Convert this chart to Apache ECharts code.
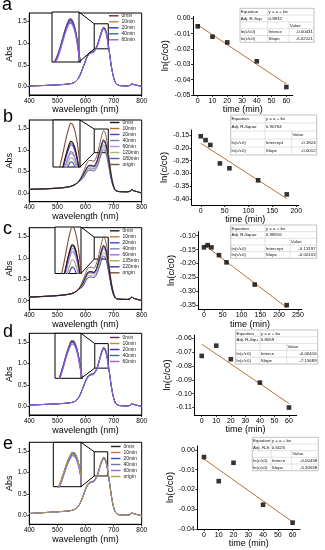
<!DOCTYPE html>
<html><head><meta charset="utf-8">
<script src="https://cdn.jsdelivr.net/npm/echarts@6/dist/echarts.min.js"></script>
<style>html,body{margin:0;padding:0;background:#fff}#c{width:325px;height:550px}</style>
</head><body><div id="c"></div>
<script>
// ---------- DATA ----------
const WL = [400,450,500,540,560,575,590,600,610,620,630,640,645,650,655,660,664,668,672,676,680,685,690,695,700,705,710,720,750,760,765,770,780,800];

// panel a spectra
const legendA = ['0min','10min','20min','40min','60min'];
const a_0min  = [0.01,0.02,0.035,0.055,0.09,0.19,0.42,0.60,0.75,0.80,0.82,0.93,1.02,1.13,1.24,1.33,1.37,1.36,1.30,1.19,1.02,0.80,0.56,0.36,0.21,0.11,0.06,0.02,0.01,0.03,0.06,0.045,0.03,0.0];
const a_10min = [0.01,0.02,0.035,0.055,0.09,0.19,0.42,0.60,0.745,0.795,0.815,0.925,1.01,1.12,1.23,1.32,1.36,1.35,1.29,1.18,1.01,0.795,0.556,0.357,0.208,0.11,0.06,0.02,0.01,0.03,0.06,0.045,0.03,0.0];
const a_20min = [0.01,0.02,0.035,0.055,0.09,0.19,0.42,0.595,0.74,0.79,0.81,0.92,1.01,1.115,1.225,1.315,1.355,1.345,1.285,1.175,1.01,0.79,0.553,0.355,0.207,0.11,0.06,0.02,0.01,0.03,0.06,0.045,0.03,0.0];
const a_40min = [0.01,0.02,0.035,0.055,0.09,0.19,0.41,0.585,0.73,0.78,0.80,0.905,0.995,1.10,1.21,1.30,1.335,1.325,1.27,1.16,0.995,0.78,0.546,0.35,0.205,0.11,0.06,0.02,0.01,0.03,0.06,0.045,0.03,0.0];
const a_60min = [0.01,0.02,0.035,0.055,0.09,0.19,0.405,0.58,0.72,0.77,0.79,0.895,0.98,1.085,1.19,1.28,1.32,1.31,1.25,1.145,0.98,0.77,0.54,0.345,0.20,0.11,0.06,0.02,0.01,0.03,0.06,0.045,0.03,0.0];

// panel b spectra
const legendB = ['0min','10min','20min','40min','60min','120min','180min','origin'];
const b_0min   = [0.09,0.10,0.115,0.145,0.19,0.26,0.41,0.53,0.64,0.65,0.63,0.735,0.84,0.96,1.085,1.19,1.24,1.22,1.155,1.045,0.88,0.67,0.445,0.275,0.155,0.08,0.05,0.035,0.03,0.05,0.085,0.06,0.04,0.0];
const b_10min  = [0.09,0.10,0.115,0.145,0.19,0.26,0.40,0.52,0.63,0.64,0.62,0.725,0.825,0.94,1.07,1.17,1.22,1.20,1.135,1.025,0.865,0.655,0.44,0.27,0.15,0.08,0.05,0.035,0.03,0.05,0.085,0.06,0.04,0.0];
const b_20min  = [0.09,0.10,0.115,0.145,0.19,0.26,0.395,0.515,0.62,0.63,0.61,0.71,0.81,0.93,1.05,1.15,1.20,1.185,1.12,1.01,0.855,0.645,0.43,0.265,0.15,0.08,0.05,0.035,0.03,0.05,0.085,0.06,0.04,0.0];
const b_40min  = [0.09,0.10,0.115,0.145,0.19,0.26,0.37,0.48,0.58,0.585,0.57,0.665,0.755,0.865,0.98,1.075,1.12,1.105,1.04,0.94,0.795,0.60,0.40,0.25,0.14,0.075,0.05,0.035,0.03,0.05,0.085,0.06,0.04,0.0];
const b_60min  = [0.09,0.10,0.115,0.145,0.19,0.26,0.365,0.47,0.57,0.575,0.56,0.65,0.745,0.85,0.965,1.055,1.10,1.085,1.025,0.925,0.78,0.59,0.395,0.245,0.14,0.075,0.05,0.035,0.03,0.05,0.085,0.06,0.04,0.0];
const b_120min = [0.09,0.10,0.115,0.145,0.19,0.26,0.35,0.45,0.545,0.55,0.535,0.625,0.71,0.81,0.92,1.005,1.05,1.035,0.98,0.885,0.745,0.565,0.38,0.235,0.135,0.07,0.05,0.035,0.03,0.05,0.085,0.06,0.04,0.0];
const b_180min = [0.09,0.10,0.115,0.145,0.19,0.26,0.335,0.43,0.52,0.525,0.51,0.595,0.675,0.775,0.875,0.96,1.00,0.99,0.93,0.84,0.71,0.54,0.36,0.225,0.13,0.07,0.05,0.035,0.03,0.05,0.085,0.06,0.04,0.0];
const b_origin = [0.08,0.09,0.11,0.14,0.19,0.27,0.45,0.62,0.75,0.76,0.74,0.86,0.98,1.12,1.27,1.39,1.45,1.43,1.35,1.22,1.03,0.78,0.52,0.32,0.18,0.09,0.05,0.035,0.03,0.05,0.085,0.06,0.04,0.0];

// panel c spectra
const legendC = ['0min','10min','20min','40min','60min','135min','220min','origin'];
const c_0min   = [0.085,0.10,0.12,0.15,0.19,0.26,0.40,0.545,0.665,0.675,0.655,0.76,0.865,0.985,1.115,1.23,1.28,1.265,1.195,1.08,0.91,0.69,0.46,0.285,0.155,0.08,0.05,0.035,0.03,0.05,0.085,0.06,0.04,0.0];
const c_10min  = [0.085,0.10,0.12,0.15,0.19,0.26,0.40,0.55,0.67,0.68,0.665,0.765,0.87,0.995,1.125,1.24,1.29,1.275,1.205,1.09,0.915,0.70,0.46,0.29,0.155,0.08,0.05,0.035,0.03,0.05,0.085,0.06,0.04,0.0];
const c_20min  = [0.085,0.10,0.12,0.15,0.19,0.26,0.395,0.54,0.665,0.67,0.655,0.76,0.86,0.98,1.11,1.225,1.275,1.255,1.19,1.075,0.905,0.69,0.455,0.285,0.155,0.08,0.05,0.035,0.03,0.05,0.085,0.06,0.04,0.0];
const c_40min  = [0.085,0.10,0.12,0.15,0.19,0.26,0.385,0.53,0.645,0.655,0.64,0.74,0.84,0.96,1.085,1.195,1.245,1.23,1.16,1.05,0.885,0.675,0.445,0.28,0.15,0.075,0.05,0.035,0.03,0.05,0.085,0.06,0.04,0.0];
const c_60min  = [0.085,0.10,0.12,0.15,0.19,0.26,0.375,0.515,0.63,0.64,0.62,0.72,0.82,0.93,1.055,1.16,1.21,1.195,1.13,1.02,0.86,0.655,0.435,0.27,0.15,0.075,0.05,0.035,0.03,0.05,0.085,0.06,0.04,0.0];
const c_135min = [0.085,0.10,0.12,0.15,0.19,0.26,0.35,0.475,0.585,0.59,0.575,0.665,0.755,0.865,0.975,1.075,1.12,1.105,1.045,0.945,0.795,0.605,0.40,0.25,0.135,0.07,0.05,0.035,0.03,0.05,0.085,0.06,0.04,0.0];
const c_220min = [0.085,0.10,0.12,0.15,0.19,0.26,0.325,0.445,0.54,0.55,0.535,0.62,0.705,0.80,0.905,1.00,1.04,1.025,0.97,0.88,0.74,0.565,0.375,0.23,0.125,0.07,0.05,0.035,0.03,0.05,0.085,0.06,0.04,0.0];
const c_origin = [0.08,0.095,0.115,0.145,0.19,0.27,0.46,0.63,0.77,0.78,0.76,0.88,1.0,1.14,1.29,1.42,1.48,1.46,1.38,1.25,1.05,0.80,0.53,0.33,0.18,0.09,0.05,0.035,0.03,0.05,0.085,0.06,0.04,0.0];

// panel d spectra
const legendD = ['0min','10min','20min','40min','60min'];
const d_0min  = [0.03,0.045,0.06,0.08,0.11,0.20,0.42,0.59,0.71,0.745,0.765,0.875,0.975,1.095,1.215,1.315,1.365,1.355,1.295,1.185,1.025,0.80,0.56,0.35,0.20,0.10,0.05,0.02,0.01,0.03,0.065,0.05,0.03,0.0];
const d_10min = [0.03,0.045,0.06,0.08,0.11,0.20,0.42,0.59,0.71,0.75,0.77,0.88,0.98,1.10,1.22,1.32,1.37,1.36,1.30,1.19,1.03,0.80,0.56,0.35,0.20,0.10,0.05,0.02,0.01,0.03,0.065,0.05,0.03,0.0];
const d_20min = [0.03,0.045,0.06,0.08,0.11,0.20,0.415,0.585,0.705,0.745,0.765,0.875,0.975,1.09,1.21,1.31,1.36,1.35,1.29,1.18,1.02,0.795,0.555,0.35,0.20,0.10,0.05,0.02,0.01,0.03,0.065,0.05,0.03,0.0];
const d_40min = [0.03,0.045,0.06,0.08,0.11,0.20,0.41,0.58,0.70,0.735,0.755,0.865,0.96,1.08,1.20,1.295,1.345,1.335,1.275,1.17,1.01,0.785,0.55,0.345,0.195,0.10,0.05,0.02,0.01,0.03,0.065,0.05,0.03,0.0];
const d_60min = [0.03,0.045,0.06,0.08,0.11,0.20,0.405,0.57,0.685,0.725,0.745,0.85,0.95,1.065,1.18,1.275,1.325,1.315,1.255,1.15,0.995,0.775,0.54,0.34,0.195,0.10,0.05,0.02,0.01,0.03,0.065,0.05,0.03,0.0];

// panel e spectra
const legendE = ['0min','10min','20min','40min','60min','origin'];
const e_0min   = [0.05,0.07,0.09,0.11,0.14,0.22,0.43,0.62,0.745,0.785,0.805,0.915,1.005,1.115,1.225,1.305,1.35,1.34,1.285,1.175,1.015,0.80,0.56,0.35,0.20,0.10,0.05,0.02,0.01,0.03,0.065,0.05,0.03,0.0];
const e_10min  = [0.05,0.07,0.09,0.11,0.14,0.22,0.425,0.61,0.74,0.78,0.80,0.905,0.995,1.105,1.21,1.29,1.335,1.325,1.27,1.16,1.005,0.79,0.55,0.345,0.20,0.10,0.05,0.02,0.01,0.03,0.065,0.05,0.03,0.0];
const e_20min  = [0.05,0.07,0.09,0.11,0.14,0.22,0.43,0.615,0.745,0.785,0.805,0.915,1.0,1.11,1.22,1.30,1.345,1.335,1.28,1.17,1.01,0.795,0.555,0.35,0.20,0.10,0.05,0.02,0.01,0.03,0.065,0.05,0.03,0.0];
const e_40min  = [0.05,0.07,0.09,0.11,0.14,0.22,0.42,0.605,0.73,0.77,0.79,0.895,0.985,1.09,1.20,1.275,1.32,1.31,1.255,1.15,0.995,0.78,0.545,0.34,0.195,0.10,0.05,0.02,0.01,0.03,0.065,0.05,0.03,0.0];
const e_60min  = [0.05,0.07,0.09,0.11,0.14,0.22,0.415,0.60,0.725,0.765,0.785,0.89,0.975,1.085,1.19,1.265,1.31,1.30,1.245,1.14,0.985,0.775,0.54,0.34,0.195,0.10,0.05,0.02,0.01,0.03,0.065,0.05,0.03,0.0];
const e_origin = [0.05,0.07,0.09,0.11,0.14,0.22,0.43,0.62,0.75,0.79,0.81,0.92,1.01,1.12,1.23,1.31,1.355,1.345,1.29,1.18,1.02,0.80,0.56,0.35,0.20,0.10,0.05,0.02,0.01,0.03,0.065,0.05,0.03,0.0];

// zoom boxes (inset ranges)
const boxA_x = [631,681], boxA_y = [0.87,1.45];
const boxB_x = [631,681], boxB_y = [0.94,1.49];
const boxC_x = [631,681], boxC_y = [0.97,1.48];
const boxD_x = [633,681], boxD_y = [0.89,1.46];
const boxE_x = [631,679], boxE_y = [0.92,1.48];

// kinetics
const timeA = [0,10,20,40,60];         const lnA = [-0.0052,-0.0120,-0.0157,-0.0280,-0.0448];
const fitA = [[0,-0.0043],[60,-0.0428]];
const timeB = [0,10,20,40,60,120,180]; const lnB = [-0.155,-0.170,-0.189,-0.261,-0.280,-0.327,-0.382];
const fitB = [[0,-0.1824],[180,-0.3984]];
const timeC = [0,10,20,40,60,135,220]; const lnC = [-0.142,-0.134,-0.142,-0.170,-0.196,-0.276,-0.350];
const fitC = [[0,-0.1320],[220,-0.3586]];
const timeD = [0,10,20,40,60];         const lnD = [-0.0727,-0.0653,-0.0751,-0.0920,-0.1100];
const fitD = [[0,-0.0642],[60,-0.1071]];
const timeE = [0,10,20,40,60];         const lnE = [-0.0036,-0.0158,-0.0065,-0.0277,-0.0368];
const fitE = [[0,-0.0046],[60,-0.0364]];

// tick labels
const specXTicks = [400,500,600,700,800];
const specYTicks = [0,0.5,1.0,1.5];
const kinXTicksA = [0,10,20,30,40,50,60];  const kinYTicksA = [0,-0.01,-0.02,-0.03,-0.04,-0.05];
const kinXTicksB = [0,50,100,150,200];     const kinYTicksB = [-0.15,-0.20,-0.25,-0.30,-0.35,-0.40];
const kinXTicksC = [0,50,100,150,200,250]; const kinYTicksC = [-0.10,-0.15,-0.20,-0.25,-0.30,-0.35];
const kinXTicksD = [0,10,20,30,40,50,60];  const kinYTicksD = [-0.06,-0.07,-0.08,-0.09,-0.10,-0.11];
const kinXTicksE = [0,10,20,30,40,50,60];  const kinYTicksE = [0,-0.01,-0.02,-0.03,-0.04];

// fit tables
const tableA = [['Equation','y = a + bx',''],['Adj. R-Squ','0.9832',''],['','','Value'],['ln(c/c0)','Interce','-0.00431'],['ln(c/c0)','Slope','-6.42121']];
const tableB = [['Equation','y = a + bx',''],['Adj. R-Squar','0.90794',''],['','','Value'],['ln(c/c0)','Intercept','-0.1824'],['ln(c/c0)','Slope','-0.0012']];
const tableC = [['Equation','y = a + bx',''],['Adj. R-Squar','0.98916',''],['','','Value'],['ln(c/c0)','Intercept','-0.13197'],['ln(c/c0)','Slope','-0.00103']];
const tableD = [['Equation','y = a + bx',''],['Adj. R-Squ','0.8659',''],['','','Value'],['ln(c/c0)','Interce','-0.06416'],['ln(c/c0)','Slope','-7.15689']];
const tableE = [['Equation','y = a + bx',''],['Adj. R-S','0.6025',''],['','','Value'],['ln(c/c0)','Interce','-0.00458'],['ln(c/c0)','Slope','-5.30658']];

const panelLetters = ['a','b','c','d','e'];

// ---------- STYLE / LAYOUT ----------
const FONT = 'Liberation Sans';
const colorsA = ['#5a2d48','#d2803c','#2b2bd6','#3d6e80','#9a5cf0'];
const colorsB = ['#1a1a1a','#b0683a','#5a35d0','#7283a3','#b98ae8','#9cbc7a','#5b55b5','#7d4e36'];
const colorsC = ['#1a1a1a','#c07840','#4040d8','#8080b0','#a070e8','#a6a860','#3a3aa8','#7d4e36'];
const colorsD = ['#5a2d48','#d2803c','#2b2bd6','#3d6e80','#9a5cf0'];
const colorsE = ['#222222','#d86a50','#3050e0','#687a98','#9a6ae8','#a8a440'];

const specGrids = [
  {left:29.3, top:13, width:112.4, height:82},
  {left:29.3, top:120, width:112.4, height:81.7},
  {left:29.3, top:227.7, width:112.4, height:81.6},
  {left:29.3, top:333.3, width:112.4, height:81.7},
  {left:29.3, top:442.3, width:112.4, height:82}
];
const kinGrids = [
  {left:193, top:16.5, width:99.7, height:78.5},
  {left:191.7, top:130, width:107, height:75},
  {left:198.3, top:231.7, width:103.4, height:77.6},
  {left:194.3, top:335, width:102.4, height:80},
  {left:197.3, top:446, width:102.7, height:83}
];
const insetGrids = [
  {left:52, top:12, width:27, height:50},
  {left:53, top:120, width:27, height:47},
  {left:55, top:227, width:26, height:46.5},
  {left:55, top:333.3, width:26, height:45},
  {left:53.3, top:442.3, width:27.7, height:44.4}
];
const legendPos = [[109,13.3],[110,120],[110,228.3],[110,335],[111,444]];
const specXNameGap = [9.5,8.8,10.5,10.8,9.9];
const kinXNameGap = [9.5,9.5,10,8.8,8.5];
const kinYNameGap = [20,18,18,19,17];
const kinRanges = [
  {x:[-3.2,64.3], y:[-0.05,0.0012]},
  {x:[-19,205], y:[-0.4234,-0.1305]},
  {x:[-15,260], y:[-0.365,-0.0856]},
  {x:[-5.1,65.3], y:[-0.1154,-0.0576]},
  {x:[-4.5,65], y:[-0.04,0.002]}
];
const tableLayout = [
  {cols:[240,267.7,289,314], y:[8.3,42.3]},
  {cols:[230.7,265,291.7,316.7], y:[115,155]},
  {cols:[230.7,265,290,316.7], y:[225,258.3]},
  {cols:[235.7,260,286.7,317.7], y:[330,364]},
  {cols:[252.3,271,291.7,318.3], y:[437.3,470.7]}
];
const letterPos = [[2,4.8],[3,116.8],[3,228.8],[3,331.8],[3,444.5]];

const panels = [
  {key:'a', names:legendA, curves:[a_0min,a_10min,a_20min,a_40min,a_60min], colors:colorsA, order:[0,1,2,3,4], bx:boxA_x, by:boxA_y,
   t:timeA, ln:lnA, fit:fitA, xt:kinXTicksA, yt:kinYTicksA, table:tableA},
  {key:'b', names:legendB, curves:[b_0min,b_10min,b_20min,b_40min,b_60min,b_120min,b_180min,b_origin], colors:colorsB, order:[1,2,3,4,5,6,7,0], bx:boxB_x, by:boxB_y,
   t:timeB, ln:lnB, fit:fitB, xt:kinXTicksB, yt:kinYTicksB, table:tableB},
  {key:'c', names:legendC, curves:[c_0min,c_10min,c_20min,c_40min,c_60min,c_135min,c_220min,c_origin], colors:colorsC, order:[1,2,3,4,5,6,7,0], bx:boxC_x, by:boxC_y,
   t:timeC, ln:lnC, fit:fitC, xt:kinXTicksC, yt:kinYTicksC, table:tableC},
  {key:'d', names:legendD, curves:[d_0min,d_10min,d_20min,d_40min,d_60min], colors:colorsD, order:[0,1,2,3,4], bx:boxD_x, by:boxD_y,
   t:timeD, ln:lnD, fit:fitD, xt:kinXTicksD, yt:kinYTicksD, table:tableD},
  {key:'e', names:legendE, curves:[e_0min,e_10min,e_20min,e_40min,e_60min,e_origin], colors:colorsE, order:[0,1,2,3,4,5], bx:boxE_x, by:boxE_y,
   t:timeE, ln:lnE, fit:fitE, xt:kinXTicksE, yt:kinYTicksE, table:tableE}
];

// ---------- BUILD ----------
const chart = echarts.init(document.getElementById('c'), null, {renderer:'canvas'});
const grid = [], xAxis = [], yAxis = [], series = [], legend = [], graphic = [];
const axisLineStyle = {onZero:false, lineStyle:{color:'#000', width:1}};
const lblStyle = (fs) => ({fontSize:fs, color:'#000', fontFamily:FONT});

panels.forEach((p,i) => {
  grid.push(Object.assign({show:true, borderColor:'#000', borderWidth:1, backgroundColor:'transparent'}, specGrids[i]));
});
panels.forEach((p,i) => { grid.push(Object.assign({show:false}, kinGrids[i])); });
panels.forEach((p,i) => {
  grid.push(Object.assign({show:true, borderColor:'#000', borderWidth:1, backgroundColor:'#fff', z:5}, insetGrids[i]));
});

panels.forEach((p,i) => {
  xAxis[i] = {gridIndex:i, type:'value', min:400, max:800, axisLine:axisLineStyle,
    axisTick:{length:2, lineStyle:{color:'#000', width:0.8}, customValues:specXTicks},
    axisLabel:Object.assign({margin:2.5, customValues:specXTicks}, lblStyle(6.5)), splitLine:{show:false},
    name:'wavelength (nm)', nameLocation:'middle', nameGap:specXNameGap[i], nameTextStyle:lblStyle(9)};
  yAxis[i] = {gridIndex:i, type:'value', min:-0.2, max:1.7, axisLine:axisLineStyle,
    axisTick:{length:2, lineStyle:{color:'#000', width:0.8}, customValues:specYTicks},
    axisLabel:Object.assign({margin:2.5, customValues:specYTicks, formatter:v=>v.toFixed(1)}, lblStyle(6.5)), splitLine:{show:false},
    name:'Abs', nameLocation:'middle', nameGap:13, nameTextStyle:lblStyle(9)};
  const r = kinRanges[i];
  xAxis[5+i] = {gridIndex:5+i, type:'value', min:r.x[0], max:r.x[1], axisLine:axisLineStyle,
    axisTick:{length:2, lineStyle:{color:'#000', width:0.8}, customValues:p.xt},
    axisLabel:Object.assign({margin:2.5, customValues:p.xt}, lblStyle(7)), splitLine:{show:false},
    name:'time (min)', nameLocation:'middle', nameGap:kinXNameGap[i], nameTextStyle:lblStyle(9)};
  yAxis[5+i] = {gridIndex:5+i, type:'value', min:r.y[0], max:r.y[1], axisLine:axisLineStyle,
    axisTick:{length:2, lineStyle:{color:'#000', width:0.8}, customValues:p.yt},
    axisLabel:Object.assign({margin:2.5, customValues:p.yt, formatter:v=>v.toFixed(2)}, lblStyle(7)), splitLine:{show:false},
    name:'ln(c/c0)', nameLocation:'middle', nameGap:kinYNameGap[i], nameTextStyle:lblStyle(9.5)};
  xAxis[10+i] = {gridIndex:10+i, type:'value', min:p.bx[0], max:p.bx[1], show:false};
  yAxis[10+i] = {gridIndex:10+i, type:'value', min:p.by[0], max:p.by[1], show:false};

  p.order.forEach((j,k) => {
    const nm = p.key + '|' + p.names[j];
    const data = WL.map((w,m) => [w, p.curves[j][m]]);
    const s = {type:'line', name:nm, xAxisIndex:i, yAxisIndex:i, data, symbol:'none', showSymbol:false,
      smooth:0.3, lineStyle:{width:0.9, color:p.colors[j]}, itemStyle:{color:p.colors[j]}, silent:true, animation:false, z:2};
    if (k === p.order.length-1) {
      s.markArea = {silent:true, itemStyle:{color:'rgba(0,0,0,0)', borderColor:'#000', borderWidth:1},
        data:[[{coord:[p.bx[0], p.by[1]]},{coord:[p.bx[1], p.by[0]]}]]};
    }
    series.push(s);
    series.push({type:'line', name:nm, xAxisIndex:10+i, yAxisIndex:10+i, data, symbol:'none', showSymbol:false,
      smooth:0.3, clip:true, lineStyle:{width:1.1, color:p.colors[j]}, itemStyle:{color:p.colors[j]}, silent:true, animation:false, z:6});
  });
  legend.push({data:p.names.map(n => p.key+'|'+n), formatter:n => n.split('|')[1], orient:'vertical',
    left:legendPos[i][0], top:legendPos[i][1], itemWidth:9.5, itemHeight:1.4, itemGap:1, icon:'rect', padding:0,
    selectedMode:false, textStyle:{fontSize:5, color:'#222', fontFamily:FONT, padding:[0,0,0,-2]}});

  series.push({type:'line', xAxisIndex:5+i, yAxisIndex:5+i, data:p.fit, symbol:'none', showSymbol:false,
    lineStyle:{color:'#c0703a', width:1}, silent:true, animation:false, z:2});
  series.push({type:'scatter', xAxisIndex:5+i, yAxisIndex:5+i, data:p.t.map((t,m)=>[t,p.ln[m]]), symbol:'rect',
    symbolSize:4.6, itemStyle:{color:'#000'}, silent:true, animation:false, z:3});

  const L = tableLayout[i], c = L.cols, y0 = L.y[0], y1 = L.y[1], n = p.table.length, rh = (y1-y0)/n;
  graphic.push({type:'rect', shape:{x:c[0], y:y0, width:c[3]-c[0], height:y1-y0}, style:{fill:'#fff', stroke:'#9a9a9a', lineWidth:0.6}, z:100});
  for (let r2=1; r2<n; r2++) graphic.push({type:'line', shape:{x1:c[0], y1:y0+r2*rh, x2:c[3], y2:y0+r2*rh}, style:{stroke:'#c4c4c4', lineWidth:0.5}, z:101});
  graphic.push({type:'line', shape:{x1:c[1], y1:y0, x2:c[1], y2:y1}, style:{stroke:'#c4c4c4', lineWidth:0.5}, z:101});
  graphic.push({type:'line', shape:{x1:c[2], y1:y0+2*rh, x2:c[2], y2:y1}, style:{stroke:'#c4c4c4', lineWidth:0.5}, z:101});
  p.table.forEach((row, ri) => {
    row.forEach((txt, ci) => {
      if (!txt) return;
      const right = (ci === 2 && ri >= 3);
      graphic.push({type:'text', x: right ? c[3]-1 : c[ci]+0.8, y: y0 + (ri+0.5)*rh,
        style:{text:txt, fill:'#111', font:'4.4px "'+FONT+'"', align: right ? 'right' : 'left', verticalAlign:'middle'}, z:102});
    });
  });
  graphic.push({type:'text', x:letterPos[i][0], y:letterPos[i][1],
    style:{text:panelLetters[i], fill:'#000', font:'18px "'+FONT+'"', align:'left', verticalAlign:'middle'}, z:102});
});

chart.setOption({animation:false, backgroundColor:'#fff', grid, xAxis, yAxis, series, legend, graphic});

const extra = [];
panels.forEach((p,i) => {
  const g = insetGrids[i];
  const tl = chart.convertToPixel({gridIndex:i}, [p.bx[0], p.by[1]]);
  const bl = chart.convertToPixel({gridIndex:i}, [p.bx[0], p.by[0]]);
  extra.push({type:'line', shape:{x1:g.left+g.width, y1:g.top, x2:tl[0], y2:tl[1]}, style:{stroke:'#000', lineWidth:1}, z:50});
  extra.push({type:'line', shape:{x1:g.left+g.width, y1:g.top+g.height, x2:bl[0], y2:bl[1]}, style:{stroke:'#000', lineWidth:1}, z:50});
});
chart.setOption({graphic: graphic.concat(extra)});
</script></body></html>
